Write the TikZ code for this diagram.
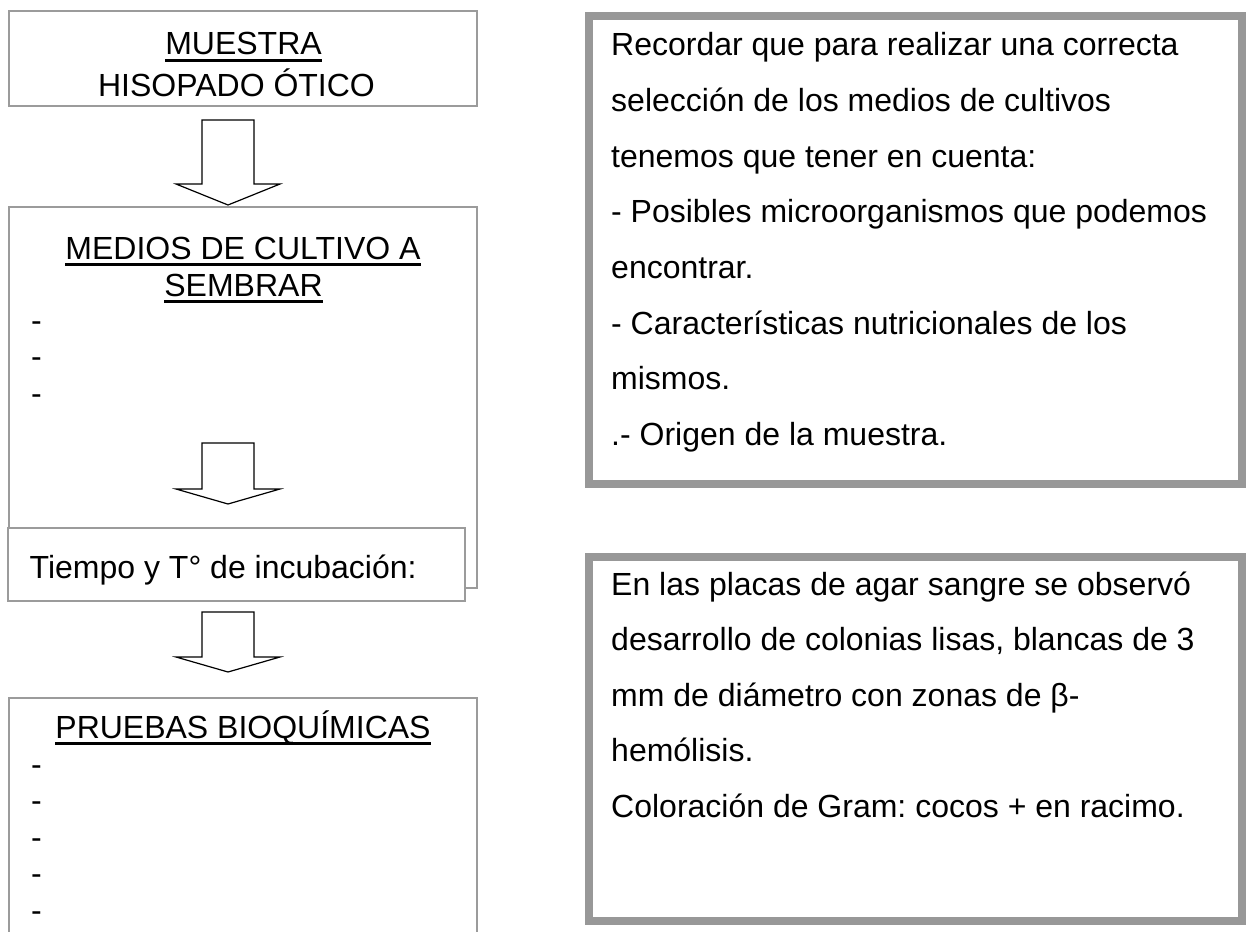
\documentclass[tikz,border=0pt]{standalone}
\usepackage{fontspec}
\setmainfont{Liberation Sans}
\usetikzlibrary{calc}
\frenchspacing
\definecolor{boxgray}{RGB}{155,155,155}
\definecolor{thickgray}{RGB}{152,152,152}
\newcommand\myul[1]{\setbox0\hbox{#1}\rlap{\rule[-6.6pt]{\wd0}{3pt}}\box0}
% block arrow: #1 top coordinate, #2 tip coordinate, #3 head length
\newcommand\barrow[3]{\draw[blockarr] let \p1=(#1),\p2=(#2) in
  (\x1-26pt,\y1) -- (\x1-26pt,\y2+#3pt) -- (\x1-52pt,\y2+#3pt) -- (\x2,\y2)
  -- (\x1+52pt,\y2+#3pt) -- (\x1+26pt,\y2+#3pt) -- (\x1+26pt,\y1) -- cycle;}
\begin{document}
\begin{tikzpicture}[x=1pt,y=-1pt,
  thinbox/.style={draw=boxgray,line width=1.5pt,fill=white,inner sep=0pt,rectangle},
  thickbox/.style={draw=thickgray,line width=8pt,fill=white,inner sep=0pt,rectangle},
  blockarr/.style={draw=black,line width=1.2pt,fill=white,line join=miter},
  txt/.style={inner sep=0pt,anchor=base,font=\fontsize{32}{38}\selectfont},
  ltxt/.style={txt,anchor=base west}]
\useasboundingbox (0,0) rectangle (1246,931);
% ---------------- left column ----------------
\node[thinbox,minimum width=468pt,minimum height=95pt] (muestra) at (243,58.5) {};
\node[txt] (t1) at (243.5,55) {\myul{MUESTRA}};
\node[txt] (t2) at (236.5,96.5) {HISOPADO ÓTICO};

\coordinate (a1t) at (228,120);
\coordinate (a1h) at (228,205);
\barrow{a1t}{a1h}{21}

\node[thinbox,minimum width=468pt,minimum height=381pt] (medios) at (243,397.5) {};
\node[txt] (t3) at (243,259) {\myul{MEDIOS DE CULTIVO A}};
\node[txt] (t4) at (243.5,296) {\myul{SEMBRAR}};
\foreach \yy [count=\i] in {331,367.6,404}
  \node[ltxt] (md\i) at (31,\yy) {-};

\coordinate (a2t) at (228,443);
\coordinate (a2h) at (228,504);
\barrow{a2t}{a2h}{15}

\node[thinbox,minimum width=457pt,minimum height=73pt] (tiempo) at (236.5,564.5) {};
\node[ltxt] (t5) at (29.5,578) {Tiempo y T° de incubación:};

\coordinate (a3t) at (228,612);
\coordinate (a3h) at (228,672);
\barrow{a3t}{a3h}{15}

\coordinate (pruebas) at (243,698);
\draw[draw=boxgray,line width=1.5pt] (9,935) |- (477,698) -- (477,935);
\node[txt] (t6) at (243,738) {\myul{PRUEBAS BIOQUÍMICAS}};
\foreach \yy [count=\i] in {775,811.6,848.2,884.8,921.4}
  \node[ltxt] (pb\i) at (31,\yy) {-};

% ---------------- right column ----------------
\node[thickbox,minimum width=653pt,minimum height=468pt] (nota) at (915.5,250) {};
\foreach \t [count=\i from 0] in {{Recordar que para realizar una correcta},
  {selección de los medios de cultivos},
  {tenemos que tener en cuenta:},
  {- Posibles microorganismos que podemos},
  {encontrar.},
  {- Características nutricionales de los},
  {mismos.},
  {.- Origen de la muestra.}}
  \node[ltxt] (n\i) at (611,56+55.6*\i) {\t};

\node[thickbox,minimum width=653pt,minimum height=364pt] (obs) at (915.5,739) {};
\foreach \t [count=\i from 0] in {{En las placas de agar sangre se observó},
  {desarrollo de colonias lisas, blancas de 3},
  {mm de diámetro con zonas de β-},
  {hemólisis.},
  {Coloración de Gram: cocos + en racimo.}}
  \node[ltxt] (o\i) at (611,595+55.6*\i) {\t};
\end{tikzpicture}
\end{document}
